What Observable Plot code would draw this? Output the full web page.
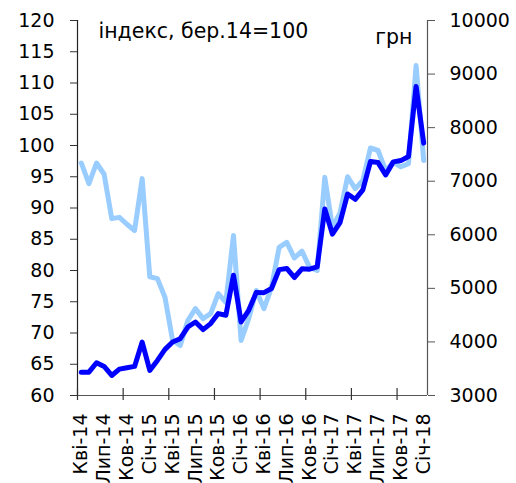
<!DOCTYPE html>
<html>
<head>
<meta charset="utf-8">
<script src="https://cdn.jsdelivr.net/npm/d3@7"></script>
<script src="https://cdn.jsdelivr.net/npm/@observablehq/plot@0.6"></script>
<style>
  html, body { margin: 0; padding: 0; background: #fff; }
  svg { display: block; }
</style>
</head>
<body>
<div id="chart"></div>
<script>
// Monthly categories, Apr-2014 .. Jan-2018
const months = [
  "Кві-14","Тра-14","Чер-14","Лип-14","Сер-14","Вер-14","Ков-14","Лис-14","Гру-14",
  "Січ-15","Лют-15","Бер-15","Кві-15","Тра-15","Чер-15","Лип-15","Сер-15","Вер-15","Ков-15","Лис-15","Гру-15",
  "Січ-16","Лют-16","Бер-16","Кві-16","Тра-16","Чер-16","Лип-16","Сер-16","Вер-16","Ков-16","Лис-16","Гру-16",
  "Січ-17","Лют-17","Бер-17","Кві-17","Тра-17","Чер-17","Лип-17","Сер-17","Вер-17","Ков-17","Лис-17","Гру-17",
  "Січ-18"
];
// Average wage, UAH (right axis, dark blue)
const wageUAH = [
  3436, 3436, 3612, 3543, 3374, 3492, 3518, 3543, 3998,
  3468, 3655, 3861, 3998, 4061, 4278, 4372, 4230, 4342, 4529, 4497, 5246,
  4372, 4591, 4925, 4920, 4997, 5350, 5371, 5203, 5364, 5358, 5401, 6481,
  6013, 6225, 6762, 6662, 6837, 7367, 7348, 7118, 7361, 7385, 7460, 8770,
  7711
];
// Index, Mar-14 = 100 (left axis, light blue)
const wageIndex = [
  97.2, 93.9, 97.2, 95.4, 88.3, 88.5, 87.4, 86.4, 94.7,
  79.0, 78.7, 75.7, 68.8, 68.0, 72.0, 73.9, 72.3, 73.1, 76.3, 74.9, 85.6,
  68.8, 72.3, 76.8, 73.9, 77.3, 83.7, 84.5, 82.0, 83.1, 80.5, 80.0, 94.9,
  86.9, 89.2, 95.0, 93.1, 94.4, 99.6, 99.2, 96.0, 97.3, 96.6, 97.1, 112.8,
  97.6
];
const leftTicks = [60, 65, 70, 75, 80, 85, 90, 95, 100, 105, 110, 115, 120];
const rightTicks = [3000, 4000, 5000, 6000, 7000, 8000, 9000, 10000];
const leftLabel = "індекс, бер.14=100";
const rightLabel = "грн";

const L0 = 60, L1 = 120, R0 = 3000, R1 = 10000;
const toLeft = v => L0 + (v - R0) * (L1 - L0) / (R1 - R0);
const toRight = v => R0 + (v - L0) * (R1 - R0) / (L1 - L0);

const n = months.length;
const labelIdx = d3.range(0, n, 3);
const tickPos = d3.range(-0.5, n, 6);

const chart = Plot.plot({
  width: 516,
  height: 483,
  marginLeft: 77,
  marginRight: 89,
  marginTop: 20,
  marginBottom: 88,
  x: { domain: [-0.5, n - 0.5] },
  y: { domain: [L0, L1] },
  style: { fontFamily: "'DejaVu Sans', Verdana, sans-serif", fontSize: "19px", color: "#000", background: "#fff" },
  marks: [
    Plot.ruleX([-0.5], { stroke: "#222", strokeWidth: 1.2 }),
    Plot.ruleX([n - 0.5], { stroke: "#555", strokeWidth: 1.2 }),
    Plot.ruleY([L0], { stroke: "#555", strokeWidth: 1.2 }),
    Plot.ruleX(tickPos, { y1: L0 - 5 * (L1 - L0) / 375, y2: L0 + 7 * (L1 - L0) / 375, stroke: "#333", strokeWidth: 1.2 }),
    Plot.axisY({ anchor: "left", ticks: leftTicks, tickSize: 7, tickPadding: 16, label: null, fontSize: 19, stroke: "#333" }),
    Plot.axisY({ anchor: "right", ticks: rightTicks.map(toLeft), tickFormat: v => String(Math.round(toRight(v))), tickSize: 7, tickPadding: 15, label: null, fontSize: 19, stroke: "#555" }),
    Plot.axisX({ ticks: labelIdx, tickFormat: i => months[i], tickSize: 0, tickPadding: 18, tickRotate: -90, label: null, fontSize: 19 }),
    Plot.line(wageIndex, { x: (d, i) => i, y: d => d, stroke: "#99CCFF", strokeWidth: 5, strokeLinejoin: "round" }),
    Plot.line(wageUAH, { x: (d, i) => i, y: d => toLeft(d), stroke: "#0000FF", strokeWidth: 5, strokeLinejoin: "round" }),
    Plot.text([leftLabel], { frameAnchor: "top-left", textAnchor: "start", lineAnchor: "top", dx: 21, dy: 3, fontSize: 20.5, fill: "#000" }),
    Plot.text([rightLabel], { frameAnchor: "top-right", textAnchor: "end", lineAnchor: "top", dx: -15, dy: 9, fontSize: 20.5, fill: "#000" })
  ]
});
document.getElementById("chart").appendChild(chart);
</script>
</body>
</html>
